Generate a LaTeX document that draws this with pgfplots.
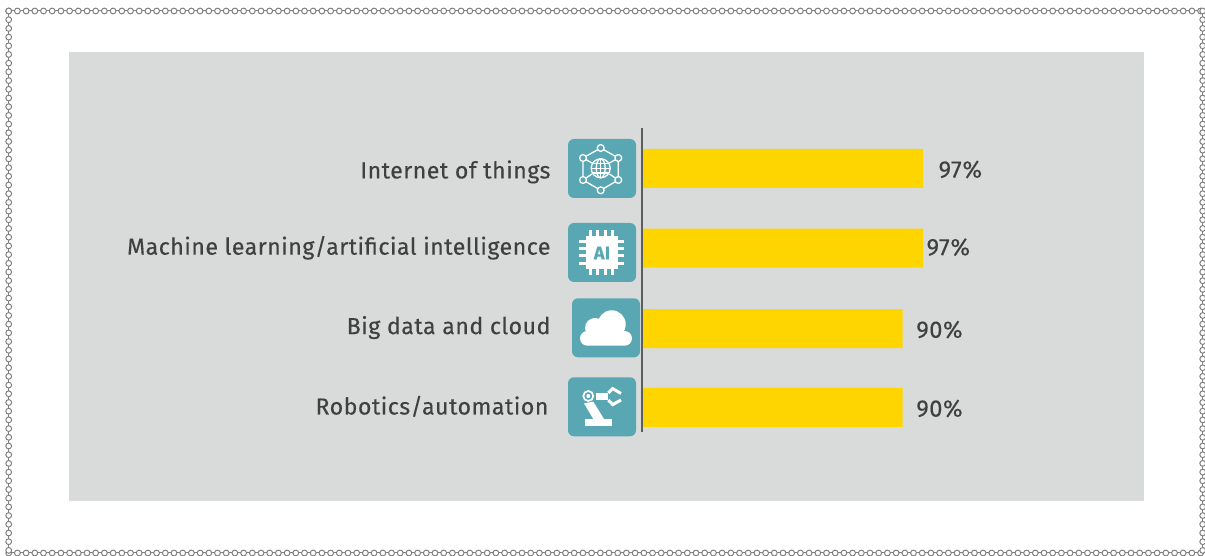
\documentclass[border=0pt]{standalone}
\usepackage{fontspec}
\usepackage{pgfplots}
\pgfplotsset{compat=1.18}
\setmainfont[LetterSpace=2,FakeBold=0.25]{Fira Sans}
\definecolor{panel}{HTML}{D9DBDA}
\definecolor{barcol}{HTML}{FFD500}
\definecolor{teal}{HTML}{59A7B3}
\definecolor{ink}{HTML}{404040}
\definecolor{chain}{HTML}{808080}
\pgfplotstableread{
val pos
97 3
97 2
90 0.99
90 0
}\shares
% fixed strut so that the raise really moves the words off the tick
\newcommand{\lab}[2]{\rule[-7pt]{0pt}{22pt}\smash{\raisebox{#1}{#2}}}
\begin{document}
\begin{tikzpicture}[x=1pt,y=1pt]
\useasboundingbox (0,0) rectangle (1205,556);
% everything outside the axis is given in picture pixels, y down
\begin{scope}[x=1pt,y=-1pt,yshift=556pt]
\fill[panel] (69,52) rectangle (1144,501);
\draw[chain,line width=1pt] (8.7,11) rectangle (1202.7,553);
\foreach \i in {0,...,137} {
  \draw[chain,fill=white,line width=1pt] (8.7+\i*8.7,11) circle (2.9);
  \draw[chain,fill=white,line width=1pt] (8.7+\i*8.7,553) circle (2.9);
}
\foreach \i in {0,...,62} {
  \draw[chain,fill=white,line width=1pt] (8.7,11+\i*8.7) circle (2.9);
  \draw[chain,fill=white,line width=1pt] (1202.7,11+\i*8.7) circle (2.9);
}
\end{scope}
\begin{axis}[
  at={(642pt,124pt)},anchor=south west,
  scale only axis,width=289.7pt,height=304pt,
  xmin=0,xmax=100,ymin=-0.3075,ymax=3.508,
  axis x line=none,axis y line=left,axis on top,
  y axis line style={-,ink!85,line width=1.3pt},
  ytick={0,0.99,2,3},
  major tick length=0pt,
  yticklabels={
    \lab{-3pt}{Robotics/automation}\kern2pt,
    \lab{-1.5pt}{Big data and cloud},
    \lab{-2.5pt}{Machine learning/artificial intelligence},
    \lab{-6pt}{Internet of things}},
  yticklabel style={font=\fontsize{23.2}{26}\selectfont,text=ink,xshift=-88pt},
  clip=false,
  xbar,bar shift=0pt,bar width=39pt,
  nodes near coords={\pgfmathprintnumber{\pgfplotspointmeta}\%},
  nodes near coords align={horizontal},
  /pgf/number format/assume math mode=true,
  every node near coord/.append style={font=\fontsize{23.8}{26}\selectfont,text=ink,xshift=10pt,yshift=-1pt},
]
\addplot[fill=barcol,draw=none,
  coordinate style/.condition={y==3}{xshift=2pt},
  coordinate style/.condition={y==2}{xshift=-10pt,yshift=2pt}]
  table[x=val,y=pos] {\shares};
\end{axis}
\begin{scope}[x=1pt,y=-1pt,yshift=556pt]
% icon tiles
\foreach \tx/\ty in {568/139,568/223,572/298.3,568/377.3}
  \fill[teal,rounded corners=6pt] (\tx,\ty) rectangle ++(68,59);
% network globe
\begin{scope}[white,line width=1.3pt]
\draw (600.7,148) -- (618.3,158) -- (618.3,180) -- (600.7,190.3) -- (583,180) -- (583,158) -- cycle;
\draw (583,158) -- (592,163) (618.3,158) -- (609.5,163) (583,180) -- (592,174) (618.3,180) -- (609.5,174);
\foreach \p in {(600.7,148),(618.3,158),(618.3,180),(600.7,190.3),(583,180),(583,158)}
  \draw[fill=teal] \p circle (3.4);
\draw[fill=teal] (600.7,168.3) circle (9.5);
\draw (600.7,168.3) ellipse (4.5 and 9.5);
\draw (600.7,158.8) -- (600.7,177.8) (591.2,168.3) -- (610.2,168.3);
\draw (592.5,163.5) -- (608.9,163.5) (592.5,173.1) -- (608.9,173.1);
\end{scope}
% chip
\foreach \v in {590,597.3,605,612.7} \draw[white,line width=3pt] (\v,230.3) -- (\v,274.7);
\foreach \v in {241.7,249,255.7,263.3} \draw[white,line width=3pt] (579.3,\v) -- (624,\v);
\fill[white] (586,236) rectangle (617.5,269);
\node[text=teal,font=\fontsize{18}{18}\selectfont\bfseries,inner sep=0pt] at (602,253) {AI};
% cloud
\fill[white,rounded corners=7.4pt] (580,331) rectangle (632,345.7);
\fill[white] (611.7,324.3) circle (14) (595,328) circle (10);
% robot arm
\fill[white] (585,419) rectangle (612.3,426.3);
\fill[white] (584,403.3) -- (593.3,401.7) -- (604,419) -- (593.3,419) -- cycle;
\fill[white] (595.7,393.3) rectangle (608.3,400);
\draw[white,line width=1.7pt] (588.3,396) circle (5);
\fill[white] (588.3,396) circle (2);
\draw[white,line width=3pt] (608.3,393) -- (612.7,388.6) -- (621,393.5);
\draw[white,line width=3pt] (608.3,400) -- (612.7,404.6) -- (621,400);
\end{scope}
\end{tikzpicture}
\end{document}
